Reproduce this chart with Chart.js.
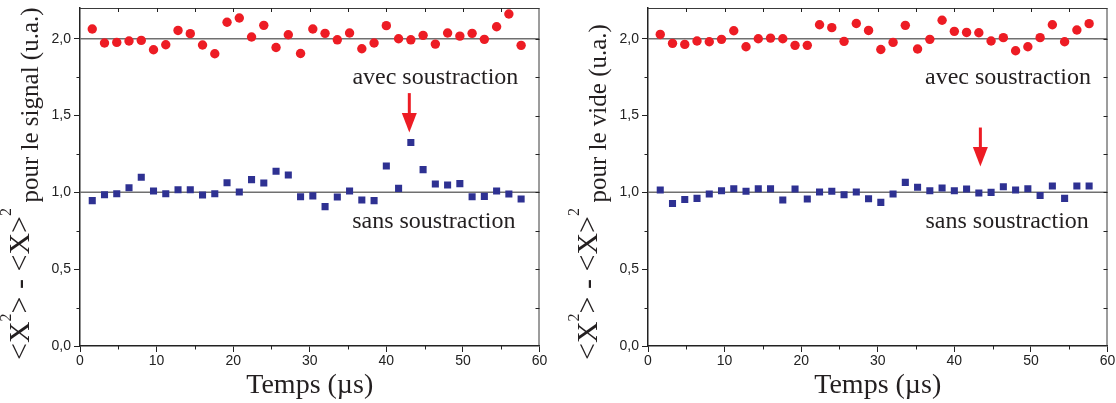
<!DOCTYPE html>
<html><head><meta charset="utf-8">
<script src="https://cdn.jsdelivr.net/npm/chart.js@4/dist/chart.umd.min.js"></script>
<style>
html,body{margin:0;padding:0;background:#fff;width:1116px;height:403px;overflow:hidden}
.box{position:absolute;top:0;height:403px}
#b1{left:0;width:558px}
#b2{left:568px;width:548px}
</style></head><body>
<div class="box" id="b1"><canvas id="c1"></canvas></div>
<div class="box" id="b2"><canvas id="c2"></canvas></div>
<script>
// ---- data ----
const temps = [1.6,3.2,4.8,6.4,8.0,9.6,11.2,12.8,14.4,16.0,17.6,19.2,20.8,22.4,24.0,25.6,27.2,28.8,30.4,32.0,33.6,35.2,36.8,38.4,40.0,41.6,43.2,44.8,46.4,48.0,49.6,51.2,52.8,54.4,56.0,57.6];
const signalAvec = [2.063,1.972,1.976,1.985,1.989,1.928,1.961,2.054,2.033,1.959,1.902,2.107,2.135,2.011,2.087,1.943,2.026,1.904,2.063,2.035,1.993,2.037,1.935,1.972,2.085,2.000,1.993,2.022,1.965,2.037,2.017,2.035,1.996,2.078,2.161,1.957];
const signalSans = [0.946,0.985,0.991,1.030,1.098,1.009,0.991,1.017,1.017,0.983,0.991,1.063,1.002,1.083,1.061,1.137,1.113,0.972,0.977,0.907,0.970,1.009,0.950,0.946,1.172,1.026,1.324,1.148,1.054,1.048,1.057,0.972,0.974,1.009,0.989,0.957];
const videAvec = [2.028,1.970,1.963,1.985,1.980,1.996,2.052,1.948,2.000,2.004,2.000,1.957,1.957,2.091,2.072,1.983,2.099,2.054,1.930,1.976,2.087,1.933,1.996,2.120,2.048,2.041,2.039,1.985,2.007,1.922,1.948,2.007,2.091,1.980,2.057,2.098];
const videSans = [1.015,0.928,0.954,0.961,0.989,1.011,1.024,1.007,1.024,1.024,0.950,1.022,0.957,1.002,1.007,0.985,1.002,0.959,0.935,0.989,1.065,1.033,1.011,1.028,1.011,1.022,0.996,1.000,1.037,1.015,1.024,0.980,1.041,0.961,1.041,1.041];
const refLevels = [1.0, 2.0];
const xRange = [0, 60];
const yRange = [0, 2.2];
const xMinorTicks = [5,15,25,35,45,55];
const xTopTicks = [5,10,15,20,25,30,35,40,45,50,55];
const yMinorTicks = [0.25,0.75,1.25,1.75];
const yRightTicks = [0.25,0.5,0.75,1.0,1.25,1.5,1.75,2.0];
// annotations: [x, yTop, yTip]
const arrowSignal = [43.0, 1.646, 1.39];
const arrowVide = [43.4, 1.422, 1.168];
const labelAvec = 'avec soustraction';
const labelSans = 'sans soustraction';
const labelPosSignal = [[46.4, 1.707], [46.2, 0.769]];
const labelPosVide = [[47.0, 1.707], [46.9, 0.769]];
const xTitle = 'Temps (\u00b5s)';
const yTitleSignal = 'pour le signal (u.a.)';
const yTitleVide = 'pour le vide (u.a.)';

const RED = '#ed1c24', BLUE = '#2e3192', INK = '#231f20';
const SERIF = '"Liberation Serif","Times New Roman",serif';
const SANS = '"Liberation Sans",Arial,sans-serif';

const deco = {
  id: 'deco',
  afterDraw(chart, args, o) {
    const {ctx, chartArea: a, scales: {x, y}} = chart;
    ctx.save();
    // top & right frame
    ctx.strokeStyle = '#3a3a3a'; ctx.lineWidth = 1;
    ctx.beginPath();
    ctx.moveTo(a.left, a.top + 0.5); ctx.lineTo(a.right, a.top + 0.5);
    ctx.moveTo(a.right - 0.5, a.top); ctx.lineTo(a.right - 0.5, a.bottom);
    ctx.stroke();
    // ticks
    ctx.strokeStyle = '#222'; ctx.beginPath();
    xMinorTicks.forEach(v => { const px = Math.round(x.getPixelForValue(v)) + 0.5; ctx.moveTo(px, a.bottom); ctx.lineTo(px, a.bottom + 3.5); });
    xTopTicks.forEach(v => { const px = Math.round(x.getPixelForValue(v)) + 0.5; ctx.moveTo(px, a.top); ctx.lineTo(px, a.top + 4); });
    yMinorTicks.forEach(v => { const py = Math.round(y.getPixelForValue(v)) + 0.5; ctx.moveTo(a.left, py); ctx.lineTo(a.left - 3.5, py); });
    yRightTicks.forEach(v => { const py = Math.round(y.getPixelForValue(v)) + 0.5; ctx.moveTo(a.right, py); ctx.lineTo(a.right - 4, py); });
    ctx.stroke();
    // arrow
    const ax = x.getPixelForValue(o.arrow[0]);
    const ay0 = y.getPixelForValue(o.arrow[1]);
    const ay1 = y.getPixelForValue(o.arrow[2]);
    const headH = 19.5, headW = 15;
    ctx.strokeStyle = RED; ctx.fillStyle = RED; ctx.lineWidth = 3;
    ctx.beginPath(); ctx.moveTo(ax, ay0); ctx.lineTo(ax, ay1 - headH + 2); ctx.stroke();
    ctx.beginPath(); ctx.moveTo(ax - headW / 2, ay1 - headH); ctx.lineTo(ax + headW / 2, ay1 - headH); ctx.lineTo(ax, ay1); ctx.closePath(); ctx.fill();
    // labels
    ctx.fillStyle = INK; ctx.font = '24px ' + SERIF; ctx.textAlign = 'center'; ctx.textBaseline = 'alphabetic';
    ctx.fillText(labelAvec, x.getPixelForValue(o.labels[0][0]), y.getPixelForValue(o.labels[0][1]));
    ctx.fillText(labelSans, x.getPixelForValue(o.labels[1][0]), y.getPixelForValue(o.labels[1][1]));
    // x title
    ctx.font = '28px ' + SERIF;
    ctx.fillText(xTitle, (a.left + a.right) / 2, 393);
    // y title
    ctx.translate(a.left - 42, 360); ctx.rotate(-Math.PI / 2);
    ctx.textAlign = 'left';
    let cx = 0;
    const big = -9;
    const seg = (t, size, dy) => { ctx.font = size + 'px ' + SERIF; ctx.fillText(t, cx, dy); cx += ctx.measureText(t).width; };
    seg('<X', 30, big); seg('2', 16, big - 18); seg('> - <X>', 30, big); seg('2', 16, big - 18); seg(' ', 22, 0); seg(o.yTitle, 25, 0);
    ctx.restore();
  }
};

function makeChart(id, avec, sans, padRight, o) {
  const pts = arr => arr.map((v, i) => ({x: temps[i], y: v}));
  const refSets = refLevels.map(lv => ({
    type: 'line', data: [{x: xRange[0], y: lv}, {x: xRange[1], y: lv}],
    borderColor: '#707070', borderWidth: 1.5, pointRadius: 0, order: 5
  }));
  return new Chart(document.getElementById(id), {
    type: 'scatter',
    data: {
      datasets: [
        ...refSets,
        {data: pts(avec), pointStyle: 'circle', pointRadius: 4.7, pointBackgroundColor: RED, pointBorderColor: RED, pointBorderWidth: 0, order: 1},
        {data: pts(sans), pointStyle: 'rect', pointRadius: 5, pointBackgroundColor: BLUE, pointBorderColor: BLUE, pointBorderWidth: 0, order: 1}
      ]
    },
    options: {
      responsive: true, maintainAspectRatio: false, animation: false,
      layout: {padding: {top: 8, right: padRight, left: 0, bottom: 0}},
      plugins: {legend: {display: false}, tooltip: {enabled: false}, deco: o},
      scales: {
        x: {
          type: 'linear', min: xRange[0], max: xRange[1],
          afterFit: s => { s.height = 57; s.paddingLeft = 0; s.paddingRight = 0; },
          ticks: {stepSize: 10, padding: 1, color: '#222', font: {family: SANS, size: 14}, maxRotation: 0},
          grid: {drawOnChartArea: false, drawTicks: true, tickLength: 6, color: '#222'},
          border: {display: true, color: '#222', width: 1.5}
        },
        y: {
          type: 'linear', min: yRange[0], max: yRange[1],
          afterFit: s => { s.width = 80; s.paddingTop = 0; s.paddingBottom = 0; },
          ticks: {stepSize: 0.5, includeBounds: false, padding: 3, color: '#222', font: {family: SANS, size: 14},
            callback: v => v.toFixed(1).replace('.', ',')},
          grid: {drawOnChartArea: false, drawTicks: true, tickLength: 6, color: '#222'},
          border: {display: true, color: '#222', width: 1.5}
        }
      }
    },
    plugins: [deco]
  });
}

makeChart('c1', signalAvec, signalSans, 18.5, {arrow: arrowSignal, labels: labelPosSignal, yTitle: yTitleSignal});
makeChart('c2', videAvec, videSans, 8.5, {arrow: arrowVide, labels: labelPosVide, yTitle: yTitleVide});
</script>
</body></html>
